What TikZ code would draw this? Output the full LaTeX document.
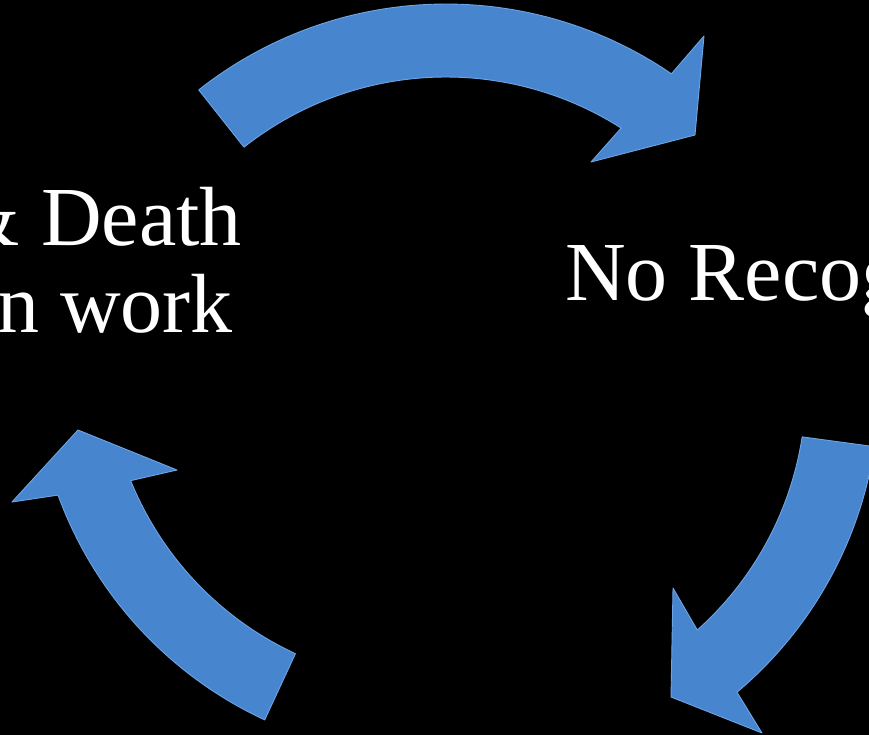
\documentclass[tikz,border=0pt]{standalone}
\usepackage{fontspec}
\setmainfont{Liberation Serif}
\definecolor{arrowblue}{RGB}{72,133,207}
\definecolor{arrowedge}{RGB}{108,165,230}
\begin{document}
\begin{tikzpicture}[x=1pt,y=-1pt,
  arrowshape/.style={fill=arrowblue, draw=arrowedge, line width=0.9pt, line join=round},
  txt/.style={text=white, font=\fontsize{84}{88}\selectfont, inner sep=0pt}]
\fill[black] (0,0) rectangle (869,735);
\useasboundingbox (0,0) rectangle (869,735);
\clip (0,0) rectangle (869,735);
% top arrow (centre 446,403)
\path[arrowshape] plot[domain=-128.3:-55.6, samples=60] ({446+399*cos(\x)},{403+399*sin(\x)})
  -- (704,36) -- (695,135) -- (591,162)
  -- plot[domain=-57.5:-128.3, samples=60] ({446+326*cos(\x)},{403+326*sin(\x)}) -- cycle;
% left arrow (centre 432.7,358)
\path[arrowshape] plot[domain=114.9:159.9, samples=60] ({432.7+399*cos(\x)},{358+399*sin(\x)})
  -- (12,502) -- (78,430) -- (177,470)
  -- plot[domain=157.9:114.9, samples=60] ({432.7+326*cos(\x)},{358+326*sin(\x)}) -- cycle;
% right arrow (centre 480,387)
\path[arrowshape] plot[domain=8.8:48.2, samples=60] ({480+326*cos(\x)},{387+326*sin(\x)})
  -- (673,588) -- (671,697) -- (762,733)
  -- plot[domain=49.9:8.6, samples=60] ({480+399*cos(\x)},{387+399*sin(\x)}) -- cycle;
% texts
\node[txt, anchor=base east] (death) at (242,245) {\& Death};
\node[txt, anchor=base east] (work) at (233,332) {n work};
\node[txt, anchor=base west] (recog) at (565,300) {No Recog};
\end{tikzpicture}
\end{document}
